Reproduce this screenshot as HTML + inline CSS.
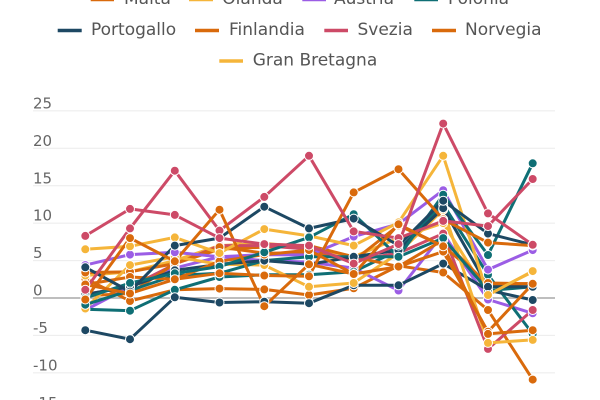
<!DOCTYPE html>
<html>
<head>
<meta charset="utf-8">
<style>
html,body{margin:0;padding:0;background:#fff;}
svg{display:block;}
text{font-family:"DejaVu Sans","Liberation Sans",sans-serif;}
</style>
</head>
<body>
<svg width="600" height="400" viewBox="0 0 600 400" xmlns="http://www.w3.org/2000/svg">
<rect width="600" height="400" fill="#fff"/>
<!-- gridlines -->
<g stroke="#ebebeb" stroke-width="1">
<line x1="33" x2="555" y1="110.9" y2="110.9"/>
<line x1="33" x2="555" y1="148.3" y2="148.3"/>
<line x1="33" x2="555" y1="185.7" y2="185.7"/>
<line x1="33" x2="555" y1="223.1" y2="223.1"/>
<line x1="33" x2="555" y1="260.6" y2="260.6"/>
<line x1="33" x2="555" y1="335.4" y2="335.4"/>
<line x1="33" x2="555" y1="372.9" y2="372.9"/>
</g>
<line x1="33" x2="555" y1="298" y2="298" stroke="#a8a8a8" stroke-width="1.5"/>
<!-- y labels -->
<g fill="#666" font-size="15">
<text x="33" y="108.4">25</text>
<text x="33" y="145.8">20</text>
<text x="33" y="183.3">15</text>
<text x="33" y="220.7">10</text>
<text x="33" y="258.1">5</text>
<text x="33" y="295.5">0</text>
<text x="33" y="333">-5</text>
<text x="33" y="370.4">-10</text>
<text x="33" y="407.8">-15</text>
</g>
<!-- series -->
<g fill="none" stroke-width="3" stroke-linejoin="round" stroke-linecap="round">
<polyline stroke="#d96a0c" points="85.3,278.5 130,301 174.8,289.8 219.5,288.6 264.3,289.4 309,295 353.7,288.3 398.5,265.8 443.2,272.5 488,310 532.7,379.6"/>
<polyline stroke="#f5b53a" points="85.3,275.5 130,271.8 174.8,260.6 219.5,245.6 264.3,243.4 309,247.1 353.7,256.8 398.5,238.1 443.2,223.1 488,294.3 532.7,271.8"/>
<polyline stroke="#9b5de5" points="85.3,310 130,286.8 174.8,268.1 219.5,256.8 264.3,260.6 309,262.1 353.7,268.1 398.5,290.5 443.2,233.6 488,299.5 532.7,313.3"/>
<polyline stroke="#0f6f75" points="85.3,309.2 130,310.7 174.8,289.8 219.5,277 264.3,274.8 309,274.8 353.7,271.8 398.5,250.1 443.2,204.4 488,274.8 532.7,333.9"/>
<polyline stroke="#1d4863" points="85.3,330.2 130,339.2 174.8,297.3 219.5,302.5 264.3,301.7 309,303.2 353.7,285.3 398.5,285.3 443.2,263.6 488,290.1 532.7,300"/>
<polyline stroke="#d96a0c" points="85.3,272.5 130,271.8 174.8,263.6 219.5,249.3 264.3,247.1 309,245.6 353.7,256.8 398.5,266.6 443.2,240 488,285.3 532.7,283.4"/>
<polyline stroke="#cd4a67" points="85.3,294.3 130,286.8 174.8,264.3 219.5,245.6 264.3,245.6 309,249.3 353.7,260.6 398.5,253.1 443.2,233.6 488,348.9 532.7,310"/>
<polyline stroke="#d96a0c" points="85.3,295.8 130,293.5 174.8,263.6 219.5,247.1 264.3,253.1 309,253.1 353.7,260.6 398.5,225.4 443.2,246.3 488,283 532.7,283.8"/>
<polyline stroke="#f5b53a" points="85.3,308.5 130,265.1 174.8,256.8 219.5,264.3 264.3,265.1 309,286.8 353.7,283 398.5,253.1 443.2,209.7 488,342.9 532.7,339.9"/>
<polyline stroke="#9b5de5" points="85.3,265.1 130,254.6 174.8,252.3 219.5,256.8 264.3,254.6 309,255 353.7,236.6 398.5,223.9 443.2,190.2 488,269.6 532.7,250.1"/>
<polyline stroke="#0f6f75" points="85.3,304.7 130,290.5 174.8,275.5 219.5,273.3 264.3,260.6 309,256.8 353.7,256.8 398.5,256.8 443.2,238.1 488,290.5 532.7,286.8"/>
<polyline stroke="#1d4863" points="85.3,294.3 130,286.8 174.8,270.3 219.5,264.3 264.3,260.6 309,264.3 353.7,256.8 398.5,250.1 443.2,208.2 488,286.8 532.7,286.8"/>
<polyline stroke="#d96a0c" points="85.3,284.5 130,277 174.8,279.3 219.5,261.3 264.3,254.6 309,250.1 353.7,274 398.5,266.6 443.2,251.6 488,331.7 532.7,283.8"/>
<polyline stroke="#f5b53a" points="85.3,249.3 130,246.3 174.8,237.4 219.5,253.1 264.3,229.1 309,235.9 353.7,245.6 398.5,222.4 443.2,155.8 488,295 532.7,271.1"/>
<polyline stroke="#0f6f75" points="85.3,298 130,283 174.8,273.3 219.5,266.6 264.3,252.3 309,237.4 353.7,214.2 398.5,256.8 443.2,194.7 488,255 532.7,163.3"/>
<polyline stroke="#1d4863" points="85.3,267.3 130,291.6 174.8,245.6 219.5,238.1 264.3,206.7 309,228.4 353.7,218.6 398.5,245.6 443.2,200.7 488,233.6 532.7,244.8"/>
<polyline stroke="#d96a0c" points="85.3,284.5 130,293.5 174.8,279.3 219.5,273.3 264.3,275.5 309,276.3 353.7,192.4 398.5,169.2 443.2,219.4 488,242.6 532.7,245.6"/>
<polyline stroke="#cd4a67" points="85.3,289.8 130,228.4 174.8,170.7 219.5,230.6 264.3,196.9 309,155.8 353.7,231.4 398.5,238.1 443.2,220.9 488,226.1 532.7,179"/>
<polyline stroke="#d96a0c" points="85.3,299.5 130,238.1 174.8,261.3 219.5,209.7 264.3,306.2 309,264.3 353.7,274 398.5,224.3 443.2,246.3 488,333.9 532.7,330.2"/>
<polyline stroke="#cd4a67" points="85.3,235.9 130,208.9 174.8,214.9 219.5,238.1 264.3,244.1 309,245.6 353.7,263.6 398.5,244.1 443.2,123.6 488,213.4 532.7,244.8"/>
</g>
<!-- markers -->
<g stroke="#fff" stroke-width="1">
<g fill="#d96a0c"><circle cx="85.3" cy="278.5" r="4.5"/><circle cx="130" cy="301" r="4.5"/><circle cx="174.8" cy="289.8" r="4.5"/><circle cx="219.5" cy="288.6" r="4.5"/><circle cx="264.3" cy="289.4" r="4.5"/><circle cx="309" cy="295" r="4.5"/><circle cx="353.7" cy="288.3" r="4.5"/><circle cx="398.5" cy="265.8" r="4.5"/><circle cx="443.2" cy="272.5" r="4.5"/><circle cx="488" cy="310" r="4.5"/><circle cx="532.7" cy="379.6" r="4.5"/></g>
<g fill="#f5b53a"><circle cx="85.3" cy="275.5" r="4.5"/><circle cx="130" cy="271.8" r="4.5"/><circle cx="174.8" cy="260.6" r="4.5"/><circle cx="219.5" cy="245.6" r="4.5"/><circle cx="264.3" cy="243.4" r="4.5"/><circle cx="309" cy="247.1" r="4.5"/><circle cx="353.7" cy="256.8" r="4.5"/><circle cx="398.5" cy="238.1" r="4.5"/><circle cx="443.2" cy="223.1" r="4.5"/><circle cx="488" cy="294.3" r="4.5"/><circle cx="532.7" cy="271.8" r="4.5"/></g>
<g fill="#9b5de5"><circle cx="85.3" cy="310" r="4.5"/><circle cx="130" cy="286.8" r="4.5"/><circle cx="174.8" cy="268.1" r="4.5"/><circle cx="219.5" cy="256.8" r="4.5"/><circle cx="264.3" cy="260.6" r="4.5"/><circle cx="309" cy="262.1" r="4.5"/><circle cx="353.7" cy="268.1" r="4.5"/><circle cx="398.5" cy="290.5" r="4.5"/><circle cx="443.2" cy="233.6" r="4.5"/><circle cx="488" cy="299.5" r="4.5"/><circle cx="532.7" cy="313.3" r="4.5"/></g>
<g fill="#0f6f75"><circle cx="85.3" cy="309.2" r="4.5"/><circle cx="130" cy="310.7" r="4.5"/><circle cx="174.8" cy="289.8" r="4.5"/><circle cx="219.5" cy="277" r="4.5"/><circle cx="264.3" cy="274.8" r="4.5"/><circle cx="309" cy="274.8" r="4.5"/><circle cx="353.7" cy="271.8" r="4.5"/><circle cx="398.5" cy="250.1" r="4.5"/><circle cx="443.2" cy="204.4" r="4.5"/><circle cx="488" cy="274.8" r="4.5"/><circle cx="532.7" cy="333.9" r="4.5"/></g>
<g fill="#1d4863"><circle cx="85.3" cy="330.2" r="4.5"/><circle cx="130" cy="339.2" r="4.5"/><circle cx="174.8" cy="297.3" r="4.5"/><circle cx="219.5" cy="302.5" r="4.5"/><circle cx="264.3" cy="301.7" r="4.5"/><circle cx="309" cy="303.2" r="4.5"/><circle cx="353.7" cy="285.3" r="4.5"/><circle cx="398.5" cy="285.3" r="4.5"/><circle cx="443.2" cy="263.6" r="4.5"/><circle cx="488" cy="290.1" r="4.5"/><circle cx="532.7" cy="300" r="4.5"/></g>
<g fill="#d96a0c"><circle cx="85.3" cy="272.5" r="4.5"/><circle cx="130" cy="271.8" r="4.5"/><circle cx="174.8" cy="263.6" r="4.5"/><circle cx="219.5" cy="249.3" r="4.5"/><circle cx="264.3" cy="247.1" r="4.5"/><circle cx="309" cy="245.6" r="4.5"/><circle cx="353.7" cy="256.8" r="4.5"/><circle cx="398.5" cy="266.6" r="4.5"/><circle cx="443.2" cy="240" r="4.5"/><circle cx="488" cy="285.3" r="4.5"/><circle cx="532.7" cy="283.4" r="4.5"/></g>
<g fill="#cd4a67"><circle cx="85.3" cy="294.3" r="4.5"/><circle cx="130" cy="286.8" r="4.5"/><circle cx="174.8" cy="264.3" r="4.5"/><circle cx="219.5" cy="245.6" r="4.5"/><circle cx="264.3" cy="245.6" r="4.5"/><circle cx="309" cy="249.3" r="4.5"/><circle cx="353.7" cy="260.6" r="4.5"/><circle cx="398.5" cy="253.1" r="4.5"/><circle cx="443.2" cy="233.6" r="4.5"/><circle cx="488" cy="348.9" r="4.5"/><circle cx="532.7" cy="310" r="4.5"/></g>
<g fill="#d96a0c"><circle cx="85.3" cy="295.8" r="4.5"/><circle cx="130" cy="293.5" r="4.5"/><circle cx="174.8" cy="263.6" r="4.5"/><circle cx="219.5" cy="247.1" r="4.5"/><circle cx="264.3" cy="253.1" r="4.5"/><circle cx="309" cy="253.1" r="4.5"/><circle cx="353.7" cy="260.6" r="4.5"/><circle cx="398.5" cy="225.4" r="4.5"/><circle cx="443.2" cy="246.3" r="4.5"/><circle cx="488" cy="283" r="4.5"/><circle cx="532.7" cy="283.8" r="4.5"/></g>
<g fill="#f5b53a"><circle cx="85.3" cy="308.5" r="4.5"/><circle cx="130" cy="265.1" r="4.5"/><circle cx="174.8" cy="256.8" r="4.5"/><circle cx="219.5" cy="264.3" r="4.5"/><circle cx="264.3" cy="265.1" r="4.5"/><circle cx="309" cy="286.8" r="4.5"/><circle cx="353.7" cy="283" r="4.5"/><circle cx="398.5" cy="253.1" r="4.5"/><circle cx="443.2" cy="209.7" r="4.5"/><circle cx="488" cy="342.9" r="4.5"/><circle cx="532.7" cy="339.9" r="4.5"/></g>
<g fill="#9b5de5"><circle cx="85.3" cy="265.1" r="4.5"/><circle cx="130" cy="254.6" r="4.5"/><circle cx="174.8" cy="252.3" r="4.5"/><circle cx="219.5" cy="256.8" r="4.5"/><circle cx="264.3" cy="254.6" r="4.5"/><circle cx="309" cy="255" r="4.5"/><circle cx="353.7" cy="236.6" r="4.5"/><circle cx="398.5" cy="223.9" r="4.5"/><circle cx="443.2" cy="190.2" r="4.5"/><circle cx="488" cy="269.6" r="4.5"/><circle cx="532.7" cy="250.1" r="4.5"/></g>
<g fill="#0f6f75"><circle cx="85.3" cy="304.7" r="4.5"/><circle cx="130" cy="290.5" r="4.5"/><circle cx="174.8" cy="275.5" r="4.5"/><circle cx="219.5" cy="273.3" r="4.5"/><circle cx="264.3" cy="260.6" r="4.5"/><circle cx="309" cy="256.8" r="4.5"/><circle cx="353.7" cy="256.8" r="4.5"/><circle cx="398.5" cy="256.8" r="4.5"/><circle cx="443.2" cy="238.1" r="4.5"/><circle cx="488" cy="290.5" r="4.5"/><circle cx="532.7" cy="286.8" r="4.5"/></g>
<g fill="#1d4863"><circle cx="85.3" cy="294.3" r="4.5"/><circle cx="130" cy="286.8" r="4.5"/><circle cx="174.8" cy="270.3" r="4.5"/><circle cx="219.5" cy="264.3" r="4.5"/><circle cx="264.3" cy="260.6" r="4.5"/><circle cx="309" cy="264.3" r="4.5"/><circle cx="353.7" cy="256.8" r="4.5"/><circle cx="398.5" cy="250.1" r="4.5"/><circle cx="443.2" cy="208.2" r="4.5"/><circle cx="488" cy="286.8" r="4.5"/><circle cx="532.7" cy="286.8" r="4.5"/></g>
<g fill="#d96a0c"><circle cx="85.3" cy="284.5" r="4.5"/><circle cx="130" cy="277" r="4.5"/><circle cx="174.8" cy="279.3" r="4.5"/><circle cx="219.5" cy="261.3" r="4.5"/><circle cx="264.3" cy="254.6" r="4.5"/><circle cx="309" cy="250.1" r="4.5"/><circle cx="353.7" cy="274" r="4.5"/><circle cx="398.5" cy="266.6" r="4.5"/><circle cx="443.2" cy="251.6" r="4.5"/><circle cx="488" cy="331.7" r="4.5"/><circle cx="532.7" cy="283.8" r="4.5"/></g>
<g fill="#f5b53a"><circle cx="85.3" cy="249.3" r="4.5"/><circle cx="130" cy="246.3" r="4.5"/><circle cx="174.8" cy="237.4" r="4.5"/><circle cx="219.5" cy="253.1" r="4.5"/><circle cx="264.3" cy="229.1" r="4.5"/><circle cx="309" cy="235.9" r="4.5"/><circle cx="353.7" cy="245.6" r="4.5"/><circle cx="398.5" cy="222.4" r="4.5"/><circle cx="443.2" cy="155.8" r="4.5"/><circle cx="488" cy="295" r="4.5"/><circle cx="532.7" cy="271.1" r="4.5"/></g>
<g fill="#0f6f75"><circle cx="85.3" cy="298" r="4.5"/><circle cx="130" cy="283" r="4.5"/><circle cx="174.8" cy="273.3" r="4.5"/><circle cx="219.5" cy="266.6" r="4.5"/><circle cx="264.3" cy="252.3" r="4.5"/><circle cx="309" cy="237.4" r="4.5"/><circle cx="353.7" cy="214.2" r="4.5"/><circle cx="398.5" cy="256.8" r="4.5"/><circle cx="443.2" cy="194.7" r="4.5"/><circle cx="488" cy="255" r="4.5"/><circle cx="532.7" cy="163.3" r="4.5"/></g>
<g fill="#1d4863"><circle cx="85.3" cy="267.3" r="4.5"/><circle cx="130" cy="291.6" r="4.5"/><circle cx="174.8" cy="245.6" r="4.5"/><circle cx="219.5" cy="238.1" r="4.5"/><circle cx="264.3" cy="206.7" r="4.5"/><circle cx="309" cy="228.4" r="4.5"/><circle cx="353.7" cy="218.6" r="4.5"/><circle cx="398.5" cy="245.6" r="4.5"/><circle cx="443.2" cy="200.7" r="4.5"/><circle cx="488" cy="233.6" r="4.5"/><circle cx="532.7" cy="244.8" r="4.5"/></g>
<g fill="#d96a0c"><circle cx="85.3" cy="284.5" r="4.5"/><circle cx="130" cy="293.5" r="4.5"/><circle cx="174.8" cy="279.3" r="4.5"/><circle cx="219.5" cy="273.3" r="4.5"/><circle cx="264.3" cy="275.5" r="4.5"/><circle cx="309" cy="276.3" r="4.5"/><circle cx="353.7" cy="192.4" r="4.5"/><circle cx="398.5" cy="169.2" r="4.5"/><circle cx="443.2" cy="219.4" r="4.5"/><circle cx="488" cy="242.6" r="4.5"/><circle cx="532.7" cy="245.6" r="4.5"/></g>
<g fill="#cd4a67"><circle cx="85.3" cy="289.8" r="4.5"/><circle cx="130" cy="228.4" r="4.5"/><circle cx="174.8" cy="170.7" r="4.5"/><circle cx="219.5" cy="230.6" r="4.5"/><circle cx="264.3" cy="196.9" r="4.5"/><circle cx="309" cy="155.8" r="4.5"/><circle cx="353.7" cy="231.4" r="4.5"/><circle cx="398.5" cy="238.1" r="4.5"/><circle cx="443.2" cy="220.9" r="4.5"/><circle cx="488" cy="226.1" r="4.5"/><circle cx="532.7" cy="179" r="4.5"/></g>
<g fill="#d96a0c"><circle cx="85.3" cy="299.5" r="4.5"/><circle cx="130" cy="238.1" r="4.5"/><circle cx="174.8" cy="261.3" r="4.5"/><circle cx="219.5" cy="209.7" r="4.5"/><circle cx="264.3" cy="306.2" r="4.5"/><circle cx="309" cy="264.3" r="4.5"/><circle cx="353.7" cy="274" r="4.5"/><circle cx="398.5" cy="224.3" r="4.5"/><circle cx="443.2" cy="246.3" r="4.5"/><circle cx="488" cy="333.9" r="4.5"/><circle cx="532.7" cy="330.2" r="4.5"/></g>
<g fill="#cd4a67"><circle cx="85.3" cy="235.9" r="4.5"/><circle cx="130" cy="208.9" r="4.5"/><circle cx="174.8" cy="214.9" r="4.5"/><circle cx="219.5" cy="238.1" r="4.5"/><circle cx="264.3" cy="244.1" r="4.5"/><circle cx="309" cy="245.6" r="4.5"/><circle cx="353.7" cy="263.6" r="4.5"/><circle cx="398.5" cy="244.1" r="4.5"/><circle cx="443.2" cy="123.6" r="4.5"/><circle cx="488" cy="213.4" r="4.5"/><circle cx="532.7" cy="244.8" r="4.5"/></g>
</g>
<!-- legend -->
<g stroke-width="3.5">
<line x1="90.7" x2="114" y1="-0.5" y2="-0.5" stroke="#d96a0c"/>
<line x1="189" x2="213" y1="-0.5" y2="-0.5" stroke="#f5b53a"/>
<line x1="302.3" x2="326" y1="-0.5" y2="-0.5" stroke="#9b5de5"/>
<line x1="414.3" x2="438" y1="-0.5" y2="-0.5" stroke="#0f6f75"/>
<line x1="57.7" x2="81.7" y1="30.5" y2="30.5" stroke="#1d4863"/>
<line x1="195" x2="219" y1="30.5" y2="30.5" stroke="#d96a0c"/>
<line x1="324.3" x2="348" y1="30.5" y2="30.5" stroke="#cd4a67"/>
<line x1="432" x2="456" y1="30.5" y2="30.5" stroke="#d96a0c"/>
<line x1="219.3" x2="243" y1="61" y2="61" stroke="#f5b53a"/>
</g>
<g fill="#555" font-size="17">
<text x="124" y="4">Malta</text>
<text x="222.3" y="4">Olanda</text>
<text x="334" y="4">Austria</text>
<text x="448" y="4">Polonia</text>
<text x="91" y="35">Portogallo</text>
<text x="229" y="35">Finlandia</text>
<text x="357.5" y="35">Svezia</text>
<text x="465" y="35">Norvegia</text>
<text x="252.7" y="65.5">Gran Bretagna</text>
</g>
</svg>
</body>
</html>
